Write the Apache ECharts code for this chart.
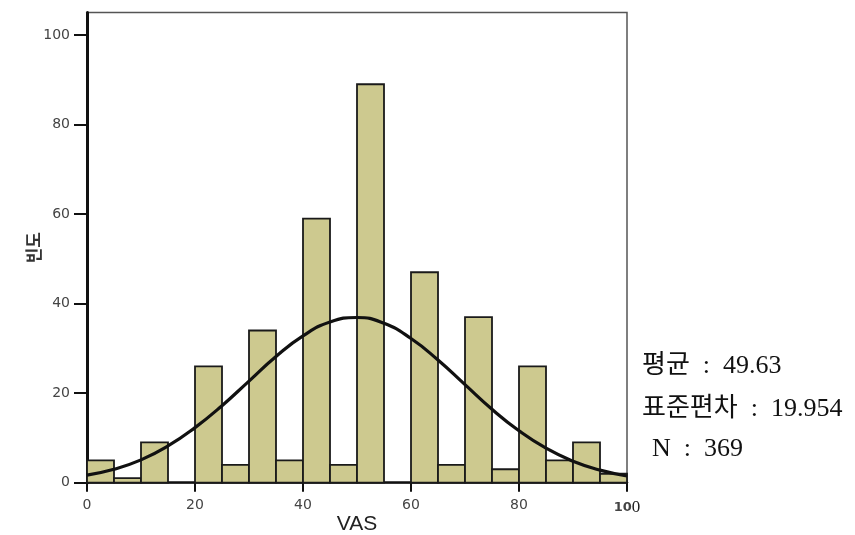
<!DOCTYPE html>
<html>
<head>
<meta charset="utf-8">
<script src="https://cdn.jsdelivr.net/npm/echarts@6/dist/echarts.min.js"></script>
<style>
  html, body { margin: 0; padding: 0; background: #fff; }
  #vas-chart { width: 855px; height: 535px; }
</style>
</head>
<body>
<div id="vas-chart"></div>
<script>
// histogram bins (width 5) and counts
var binStart = [0, 5, 10, 15, 20, 25, 30, 35, 40, 45, 50, 55, 60, 65, 70, 75, 80, 85, 90, 95];
var binCount = [5, 1, 9, 0, 26, 4, 34, 5, 59, 4, 89, 0, 47, 4, 37, 3, 26, 5, 9, 2];
var binWidth = 5;

// normal curve
var curveX = [0, 5, 10, 15, 20, 25, 30, 35, 40, 45, 50, 55, 60, 65, 70, 75, 80, 85, 90, 95, 100];
var curveY = [1.7, 3.0, 5.1, 8.2, 12.3, 17.2, 22.7, 28.2, 32.8, 35.9, 36.9, 35.6, 32.2, 27.4, 21.9, 16.4, 11.6, 7.7, 4.8, 2.8, 1.5];

var yTicks = [0, 20, 40, 60, 80, 100];

var statLabels = ['평균', '표준편차', 'N'];
var statValues = ['49.63', '19.954', '369'];

var bars = [];
for (var i = 0; i < binStart.length; i++) {
    bars.push([binStart[i], binStart[i] + binWidth, binCount[i]]);
}
var curve = [];
for (var j = 0; j < curveX.length; j++) {
    curve.push([curveX[j], curveY[j]]);
}

var statFont = '26px "Liberation Serif", "Noto Sans CJK KR"';
var statX = [642, 642, 652];
var statY = [366, 409, 449];
var statText = [];
for (var k = 0; k < statLabels.length; k++) {
    statText.push({
        type: 'text',
        x: statX[k],
        y: statY[k],
        style: {
            text: statLabels[k] + '  :  ' + statValues[k],
            font: statFont,
            fill: '#111',
            verticalAlign: 'middle'
        }
    });
}

var chart = echarts.init(document.getElementById('vas-chart'));

var option = {
    backgroundColor: '#fff',
    animation: false,
    grid: {
        left: 87,
        right: 228,
        top: 12.6,
        bottom: 52.3,
        outerBoundsMode: 'none',
        show: true,
        borderColor: '#555',
        borderWidth: 1.5
    },
    xAxis: {
        type: 'value',
        min: 0,
        max: 100,
        interval: 20,
        name: 'VAS',
        nameLocation: 'middle',
        nameGap: 31,
        nameMoveOverlap: false,
        nameTextStyle: { fontFamily: 'Liberation Sans', fontSize: 21, color: '#222' },
        splitLine: { show: false },
        axisLine: { lineStyle: { color: '#111', width: 2.5 } },
        axisTick: { inside: false, length: 9, lineStyle: { color: '#111', width: 2 } },
        axisLabel: {
            margin: 16,
            fontFamily: 'DejaVu Sans',
            fontSize: 14,
            color: '#444',
            formatter: function (v) {
                if (v === 100) return '{a|10}{b|0}';
                return v;
            },
            rich: {
                a: { fontFamily: 'DejaVu Sans', fontSize: 13, fontWeight: 'bold', color: '#444' },
                b: { fontFamily: 'Liberation Serif', fontSize: 17, color: '#222' }
            }
        }
    },
    yAxis: {
        type: 'value',
        min: 0,
        max: 105,
        interval: 20,
        name: '빈도',
        nameLocation: 'middle',
        nameRotate: 90,
        nameGap: 45,
        nameMoveOverlap: false,
        nameTextStyle: { fontFamily: 'Noto Sans CJK KR', fontSize: 17, fontWeight: 'bold', color: '#333' },
        splitLine: { show: false },
        axisLine: { show: true, lineStyle: { color: '#111', width: 3 } },
        axisTick: { show: true, inside: false, length: 13, customValues: yTicks, lineStyle: { color: '#111', width: 2 } },
        axisLabel: {
            customValues: yTicks,
            margin: 17,
            fontFamily: 'DejaVu Sans',
            fontSize: 14,
            color: '#444'
        }
    },
    series: [
        {
            type: 'custom',
            data: bars,
            z: 2,
            renderItem: function (params, api) {
                if (api.value(2) === 0) return null;
                var p0 = api.coord([api.value(0), 0]);
                var p1 = api.coord([api.value(1), api.value(2)]);
                return {
                    type: 'rect',
                    shape: { x: p0[0], y: p1[1], width: p1[0] - p0[0], height: p0[1] - p1[1] },
                    style: { fill: '#cdc98f', stroke: '#1a1a1a', lineWidth: 1.8 }
                };
            }
        },
        {
            type: 'line',
            data: curve,
            smooth: true,
            showSymbol: false,
            z: 5,
            lineStyle: { color: '#111', width: 3.2 }
        }
    ],
    graphic: statText
};

chart.setOption(option);
</script>
</body>
</html>
